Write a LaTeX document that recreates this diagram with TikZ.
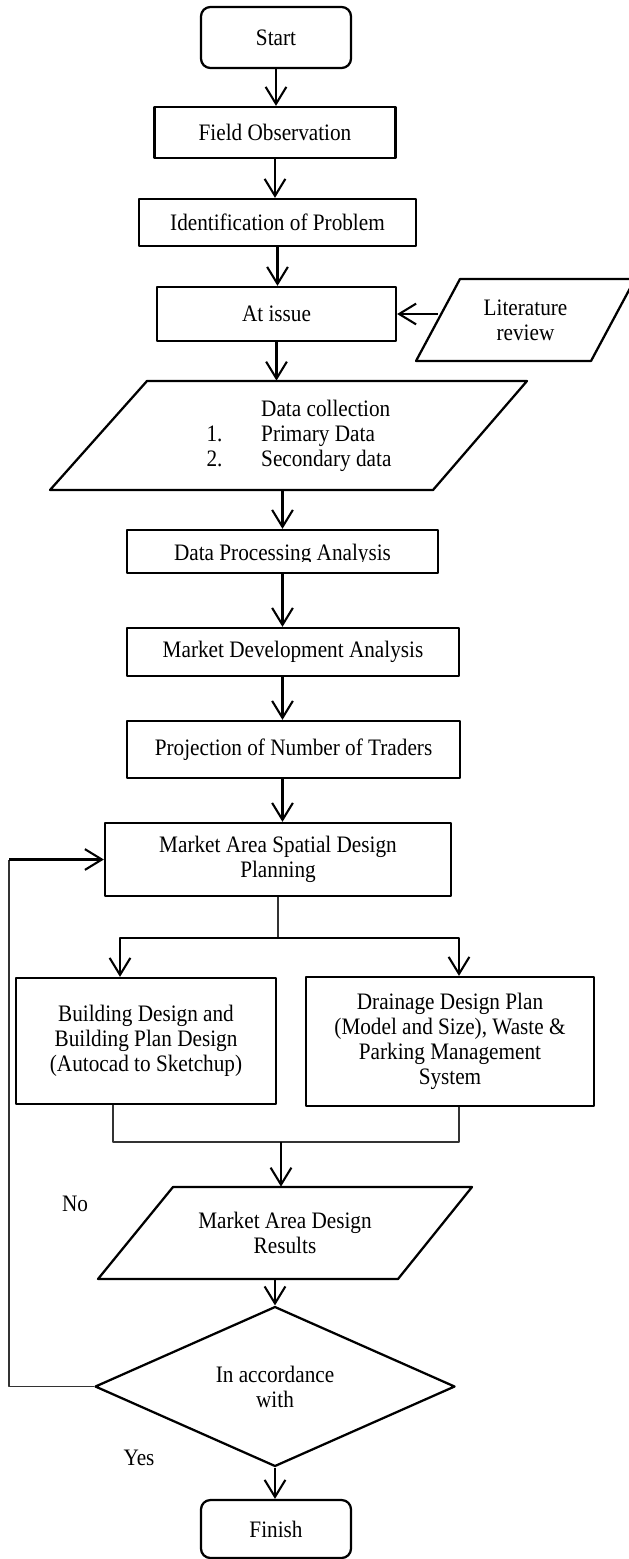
\documentclass[tikz,border=0pt]{standalone}
\usepackage{fontspec}
\setmainfont{Liberation Serif}[FakeStretch=0.9]
\usetikzlibrary{shapes.geometric,arrows.meta}
\begin{document}
\begin{tikzpicture}[x=0.53pt,y=-0.53pt,font=\fontsize{12.5}{13.2}\selectfont,line join=round,
 >={Straight Barb[length=9pt,width=11pt]},
 box/.style={draw,line width=1.2pt,align=center,inner sep=2pt},
 term/.style={box,rounded corners=5pt},
 flow/.style={->,line width=1.1pt},
 link/.style={line width=0.7pt,black!80}]
 \def\px{0.53pt}
 \useasboundingbox (0,0) rectangle (629,1559);
 % boxes
 \node[term,minimum width=150*\px,minimum height=61*\px] (start) at (276,37.5) {Start};
 \node[box,minimum width=241*\px,minimum height=51*\px] (field) at (275,132.5) {Field Observation};
 \node[box,minimum width=277*\px,minimum height=47*\px] (ident) at (277.5,222.5) {Identification of Problem};
 \node[box,minimum width=239*\px,minimum height=54*\px] (issue) at (276.5,314) {At issue};
 \draw[line width=1.2pt] (460,279) -- (635,279) -- (591,361) -- (416,361) -- cycle;
 \node[align=center,minimum width=175*\px,minimum height=82*\px] (lit) at (525.5,320) {Literature\\review};
 \draw[line width=1.2pt] (147,381) -- (527,381) -- (433,490) -- (50,490) -- cycle;
 \node[align=left,minimum height=109*\px] (dc) at (299,435.5)
  {\hspace*{29pt}Data collection\\\makebox[29pt][l]{1.}Primary Data\\\makebox[29pt][l]{2.}Secondary data};
 \node[box,minimum width=311*\px,minimum height=43*\px] (proc) at (282.5,551.5) {};
 \begin{scope}
  \clip (120,520) rectangle (450,561.5);
  \node (proctxt) at (282.5,555) {Data Processing Analysis};
 \end{scope}
 \node[box,minimum width=332*\px,minimum height=48*\px] (mda) at (293,652) {Market Development Analysis};
 \node[box,minimum width=333*\px,minimum height=57*\px] (proj) at (293.5,749.5) {Projection of Number of Traders};
 \node[box,minimum width=346*\px,minimum height=73*\px] (masdp) at (278,859.5) {Market Area Spatial Design\\Planning};
 \node[box,minimum width=260*\px,minimum height=126*\px] (bld) at (146,1041)
  {Building Design and\\Building Plan Design\\(Autocad to Sketchup)};
 \node[box,minimum width=288*\px,minimum height=129*\px] (drn) at (450,1041.5)
  {Drainage Design Plan\\(Model and Size), Waste \&\\Parking Management\\System};
 \draw[line width=1.2pt] (173,1187) -- (472,1187) -- (398,1279) -- (98,1279) -- cycle;
 \node[align=center,minimum height=92*\px] (res) at (285,1233) {Market Area Design\\Results};
 \node[diamond,draw,line width=1.2pt,align=center,inner sep=0pt,minimum width=360*\px,minimum height=143*\px] (chk) at (275,1386.5) {In accordance\\with};
 \node[term,minimum width=150*\px,minimum height=58*\px] (finish) at (276,1529) {Finish};
 \node (no) at (75,1204) {No};
 \node (yes) at (139,1458) {Yes};
 % connectors
 \coordinate (split) at (278,938);
 \coordinate (lft) at (120,938);
 \coordinate (rgt) at (459,938);
 \coordinate (bl) at (113,1142);
 \coordinate (br) at (459,1142);
 \coordinate (mrg) at (281,1142);
 \coordinate (fb) at (9,1000);
 \draw[flow] (start.south) -- (start.south |- field.north);
 \draw[flow] (field.south) -- (field.south |- ident.north);
 \draw[flow] (ident.south) -- (ident.south |- issue.north);
 \draw[flow] (issue.east -| lit.west) -- (issue.east);
 \draw[flow] (issue.south) -- (issue.south |- dc.north);
 \draw[flow] (proc.north |- dc.south) -- (proc.north);
 \draw[flow] (proc.south) -- (proc.south |- mda.north);
 \draw[flow] (proc.south |- mda.south) -- (proc.south |- proj.north);
 \draw[flow] (proc.south |- proj.south) -- (proc.south |- masdp.north);
 \draw[link] (masdp.south) -- (split);
 \draw[flow] (split) -| (lft |- bld.north);
 \draw[flow] (split) -| (rgt |- drn.north);
 \draw[link] (bl |- bld.south) -- (bl) -- (br) -- (br |- drn.south);
 \draw[flow] (mrg) -- (mrg |- res.north);
 \draw[flow] (chk.north |- res.south) -- (chk.north);
 \draw[flow] (chk.south) -- (chk.south |- finish.north);
 \draw[link] (chk.west) -- (chk.west -| fb) -- (fb |- masdp.west);
 \draw[flow] (fb |- masdp.west) -- (masdp.west);
\end{tikzpicture}
\end{document}
